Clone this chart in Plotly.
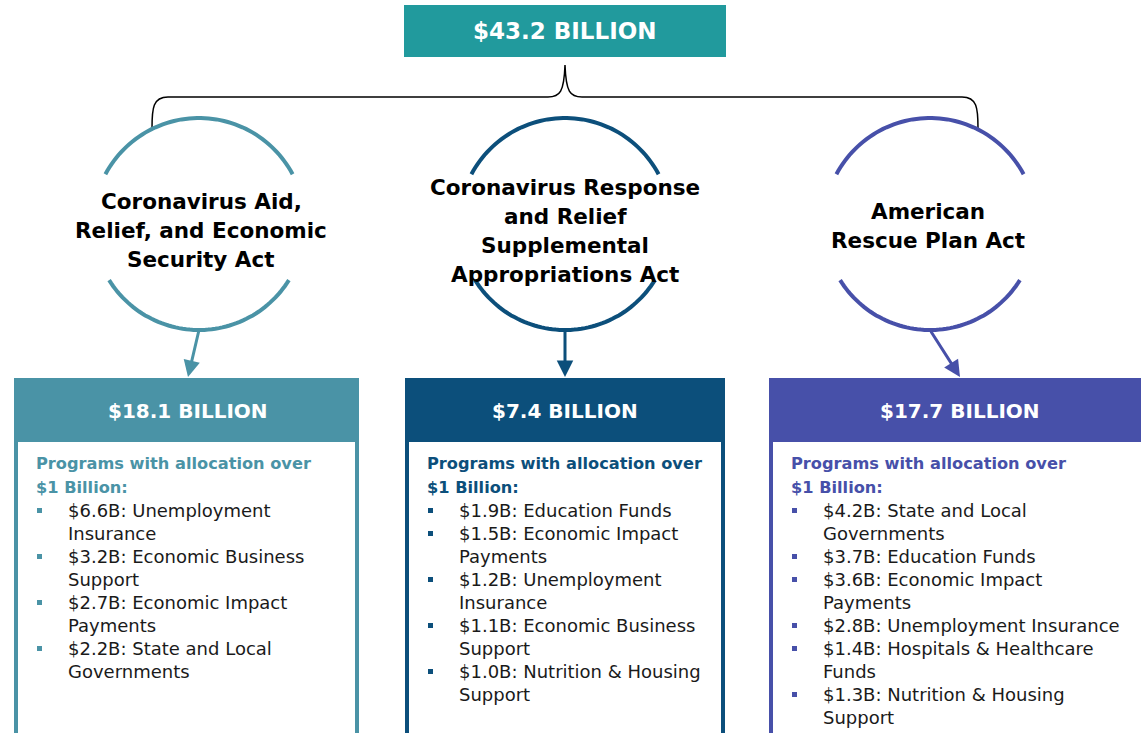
import textwrap
import numpy as np
import plotly.graph_objects as go

# --- data ---
TOTAL = "$43.2 BILLION"
ACTS = [
    ["Coronavirus Aid,", "Relief, and Economic", "Security Act"],
    ["Coronavirus Response", "and Relief", "Supplemental", "Appropriations Act"],
    ["American", "Rescue Plan Act"],
]
ACT_TOTALS = ["$18.1 BILLION", "$7.4 BILLION", "$17.7 BILLION"]
CARES_PROGRAMS = [
    "$6.6B: Unemployment Insurance",
    "$3.2B: Economic Business Support",
    "$2.7B: Economic Impact Payments",
    "$2.2B: State and Local Governments",
]
CRRSA_PROGRAMS = [
    "$1.9B: Education Funds",
    "$1.5B: Economic Impact Payments",
    "$1.2B: Unemployment Insurance",
    "$1.1B: Economic Business Support",
    "$1.0B: Nutrition & Housing Support",
]
ARPA_PROGRAMS = [
    "$4.2B: State and Local Governments",
    "$3.7B: Education Funds",
    "$3.6B: Economic Impact Payments",
    "$2.8B: Unemployment Insurance",
    "$1.4B: Hospitals & Healthcare Funds",
    "$1.3B: Nutrition & Housing Support",
]
PROGRAMS = [CARES_PROGRAMS, CRRSA_PROGRAMS, ARPA_PROGRAMS]
SUBHEAD = ["Programs with allocation over", "$1 Billion:"]

# --- layout/style ---
W, H = 1141, 733
FONT = "DejaVu Sans"
TOP_COLOR = "#219A9D"
COLORS = ["#4A93A6", "#0C4F7B", "#4750A9"]
CIRCLE_X = [199, 565, 930]
CIRCLE_Y = 224
RADIUS = 106
BOXES = [(14, 359), (405, 725), (769, 1150)]
HEAD_X = [188, 565, 960]
WRAP = [26, 26, 29]
TITLE_X = [201, 565, 928]
TITLE_Y0 = [201, 187, 211]

shapes = []
annotations = []

# top total box
shapes.append(dict(type="rect", x0=404, x1=726, y0=5, y1=57,
                   fillcolor=TOP_COLOR, line=dict(width=0)))
annotations.append(dict(x=565, y=31, text=f"<b>{TOTAL}</b>", showarrow=False,
                        font=dict(family=FONT, size=23, color="white")))

# curly brace
brace = ("M 152 128 C 152 108, 153 97, 168 97 L 548 97 "
         "C 560 97, 564 92, 565 65 C 566 92, 570 97, 582 97 "
         "L 962 97 C 977 97, 978 108, 978 128")
shapes.append(dict(type="path", path=brace, line=dict(color="black", width=1.5)))


def arc_path(cx, cy, r, t0, t1, n=60):
    t = np.radians(np.linspace(t0, t1, n))
    xs = cx + r * np.cos(t)
    ys = cy - r * np.sin(t)
    pts = [f"{x:.1f} {y:.1f}" for x, y in zip(xs, ys)]
    return "M " + " L ".join(pts)


for i, col in enumerate(COLORS):
    cx = CIRCLE_X[i]
    # circle with side gaps for the title
    shapes.append(dict(type="path", path=arc_path(cx, CIRCLE_Y, RADIUS, 28, 152),
                       line=dict(color=col, width=4)))
    shapes.append(dict(type="path", path=arc_path(cx, CIRCLE_Y, RADIUS, -148, -32),
                       line=dict(color=col, width=4)))
    for k, line in enumerate(ACTS[i]):
        annotations.append(dict(x=TITLE_X[i], y=TITLE_Y0[i] + 29 * k, text=f"<b>{line}</b>",
                                showarrow=False,
                                font=dict(family=FONT, size=21.5, color="black")))

    x0, x1 = BOXES[i]
    bx = HEAD_X[i]
    # arrow from circle to box
    annotations.append(dict(x=bx, y=377, ax=cx, ay=CIRCLE_Y + RADIUS,
                            axref="x", ayref="y", xref="x", yref="y", text="",
                            showarrow=True, arrowhead=2, arrowsize=1.1,
                            arrowwidth=3, arrowcolor=col))
    # box
    shapes.append(dict(type="rect", x0=x0 + 2, x1=x1 - 2, y0=380, y1=745,
                       fillcolor="white", line=dict(color=col, width=4)))
    shapes.append(dict(type="rect", x0=x0, x1=x1, y0=378, y1=442,
                       fillcolor=col, line=dict(width=0)))
    annotations.append(dict(x=bx, y=411, text=f"<b>{ACT_TOTALS[i]}</b>",
                            showarrow=False,
                            font=dict(family=FONT, size=20, color="white")))
    # sub heading
    for k, line in enumerate(SUBHEAD):
        annotations.append(dict(x=x0 + 20, y=463 + 24 * k, text=f"<b>{line}</b>",
                                showarrow=False, xanchor="left",
                                font=dict(family=FONT, size=16.2, color=col)))
    # bullet items
    row = 0
    for prog in PROGRAMS[i]:
        lines = textwrap.wrap(prog, WRAP[i])
        y = 510 + 23 * row
        shapes.append(dict(type="rect", x0=x0 + 23, x1=x0 + 28, y0=y - 2, y1=y + 3,
                           fillcolor=col, line=dict(width=0)))
        for j, ln in enumerate(lines):
            annotations.append(dict(x=x0 + 52, y=510 + 23 * (row + j), text=ln,
                                    showarrow=False, xanchor="left",
                                    font=dict(family=FONT, size=18, color="#1a1a1a")))
        row += len(lines)

fig = go.Figure()
fig.update_layout(
    width=W, height=H,
    margin=dict(l=0, r=0, t=0, b=0),
    paper_bgcolor="white", plot_bgcolor="white",
    xaxis=dict(range=[0, W], visible=False, fixedrange=True),
    yaxis=dict(range=[H, 0], visible=False, fixedrange=True),
    shapes=shapes, annotations=annotations, showlegend=False,
)
fig.write_html("out.html", config={"displayModeBar": False},
               post_script="document.body.style.margin='0';document.body.style.overflow='hidden';")
